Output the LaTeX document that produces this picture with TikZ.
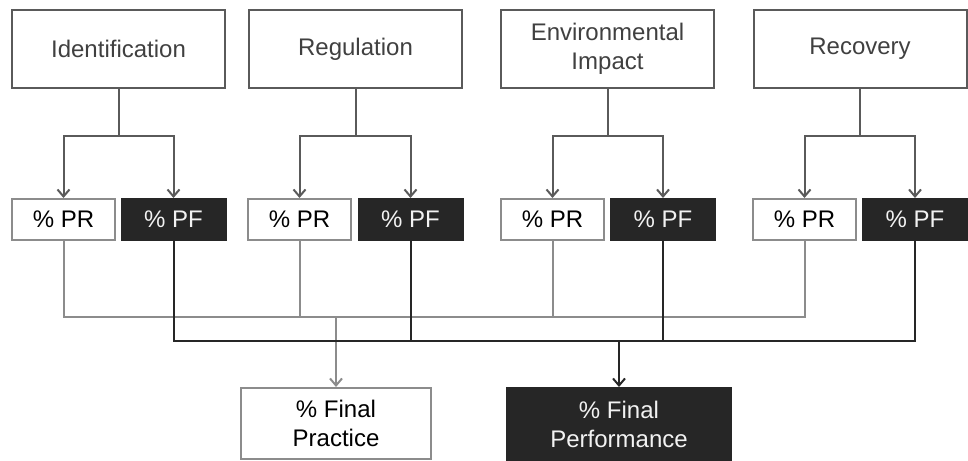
\documentclass[tikz,border=0pt]{standalone}
\usepackage{fontspec}
\setmainfont{Liberation Sans}
\usetikzlibrary{arrows.meta}
\definecolor{topborder}{HTML}{5A5A5A}
\definecolor{toptext}{HTML}{404040}
\definecolor{lightline}{HTML}{8C8C8C}
\definecolor{darkfill}{HTML}{262626}
\definecolor{whitetext}{HTML}{F2F2F2}
\tikzset{
  txt/.style={font=\fontsize{24}{29}\selectfont, align=center, inner sep=0pt},
  topbox/.style={txt, draw=topborder, line width=2pt, text=toptext, minimum width=213pt, minimum height=78pt},
  prbox/.style={txt, draw=lightline, line width=2pt, text=black, minimum width=103pt, minimum height=41pt},
  pfbox/.style={txt, draw=darkfill, fill=darkfill, line width=2pt, text=whitetext, minimum width=104pt, minimum height=41pt},
  topconn/.style={draw=topborder, line width=2pt},
  toparrow/.style={topconn, -{Straight Barb[length=7pt,width=12pt,line width=2pt]}},
  lightconn/.style={draw=lightline, line width=2pt},
  darkconn/.style={draw=darkfill, line width=2pt},
}
\begin{document}
\begin{tikzpicture}[x=1pt,y=-1pt]
\useasboundingbox (0,0) rectangle (968,460);
% top boxes
\node[topbox] (t1) at (118.5,49) {Identification};
\node[topbox] (t2) at (355.5,49) {Regulation};
\node[topbox] (t3) at (607.5,49) {Environmental\\Impact};
\node[topbox] (t4) at (860,49) {Recovery};
% PR / PF boxes
\node[prbox] (pr1) at (63.5,219.5) {\% PR};
\node[pfbox] (pf1) at (173.5,219.5) {\% PF};
\node[prbox] (pr2) at (299.5,219.5) {\% PR};
\node[pfbox] (pf2) at (410.5,219.5) {\% PF};
\node[prbox] (pr3) at (552.5,219.5) {\% PR};
\node[pfbox] (pf3) at (663,219.5) {\% PF};
\node[prbox] (pr4) at (804.5,219.5) {\% PR};
\node[pfbox] (pf4) at (915,219.5) {\% PF};
% final boxes
\node[prbox, minimum width=190pt, minimum height=71pt] (fp) at (336,423.5) {\% Final\\Practice};
\node[pfbox, minimum width=224pt, minimum height=73pt] (ff) at (619,424.5) {\% Final\\Performance};
% top connectors
\foreach \i in {1,2,3,4}{
  \coordinate (s\i) at (t\i.south |- 0,136);
  \draw[topconn] (t\i.south) -- (s\i);
  \draw[toparrow] (s\i) -| (pr\i.north);
  \draw[toparrow] (s\i) -| (pf\i.north);
}
% gray collector
\coordinate (g1) at (pr1.south |- 0,317);
\coordinate (g4) at (pr4.south |- 0,317);
\coordinate (gp) at (fp.north |- 0,317);
\draw[lightconn] (pr1.south) -- (g1) -- (g4) -- (pr4.south);
\draw[lightconn] (pr2.south) -- (pr2.south |- 0,317);
\draw[lightconn] (pr3.south) -- (pr3.south |- 0,317);
\draw[lightconn, -{Straight Barb[length=7pt,width=12pt,line width=2pt]}] (gp) -- (fp.north);
% dark collector
\coordinate (d1) at (pf1.south |- 0,341);
\coordinate (d4) at (pf4.south |- 0,341);
\coordinate (dp) at (ff.north |- 0,341);
\draw[darkconn] (pf1.south) -- (d1) -- (d4) -- (pf4.south);
\draw[darkconn] (pf2.south) -- (pf2.south |- 0,341);
\draw[darkconn] (pf3.south) -- (pf3.south |- 0,341);
\draw[darkconn, -{Straight Barb[length=7pt,width=12pt,line width=2pt]}] (dp) -- (ff.north);
\end{tikzpicture}
\end{document}
